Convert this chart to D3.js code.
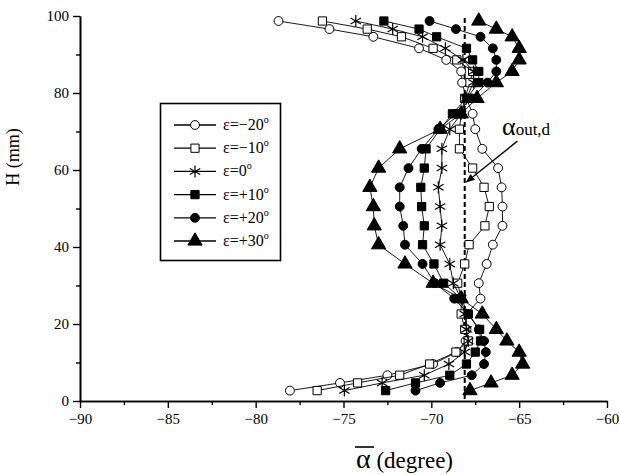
<!DOCTYPE html>
<html>
<head>
<meta charset="utf-8">
<script src="https://cdn.jsdelivr.net/npm/d3@7"></script>
<style>
  body { margin: 0; background: #fff; }
  text { font-family: "Liberation Serif", "Times New Roman", serif; fill: #000; }
</style>
</head>
<body>
<svg id="svg" width="619" height="475"></svg>
<script>
// measurement heights (mm), shared by every series
var heights = [98.7, 96.6, 94.6, 91.6, 88.6, 85.6, 82.7, 78.6, 74.6, 70.6, 65.5, 60.5, 55.5, 50.5,
               45.5, 40.6, 35.6, 30.6, 26.6, 22.6, 18.6, 15.6, 12.7, 9.6, 6.7, 4.7, 2.7];

var epsM20 = [-78.7, -75.8, -73.3, -70.7, -69.15, -68.3, -68.25, -68.0, -67.65, -67.5, -67.1, -66.2, -66.0, -65.95,
              -65.95, -66.5, -66.85, -67.3, -67.2, -68.0, -68.0, -68.05, -68.55, -69.9, -72.5, -75.2, -78.05];
var epsM10 = [-76.2, -73.65, -71.7, -69.9, -68.55, -67.65, -67.8, -68.1, -68.3, -68.4, -68.4, -67.65, -67.0, -66.7,
              -66.95, -67.85, -68.1, -68.5, -68.3, -68.3, -68.1, -67.9, -68.6, -70.1, -71.8, -74.2, -76.5];
var eps0   = [-74.3, -72.2, -70.5, -69.2, -68.2, -67.6, -67.6, -68.0, -68.3, -68.95, -69.4, -69.4, -69.6, -69.5,
              -69.4, -69.5, -68.95, -68.75, -68.3, -68.1, -68.0, -67.9, -68.1, -69.0, -70.4, -72.8, -74.95];
var epsP10 = [-72.7, -70.7, -69.7, -68.0, -67.65, -67.3, -67.3, -68.0, -68.8, -69.5, -70.3, -70.4, -70.6, -70.55,
              -70.4, -70.5, -69.85, -69.3, -68.3, -67.9, -67.25, -67.2, -67.5, -68.0, -68.95, -70.9, -72.6];
var epsP20 = [-70.1, -68.6, -67.2, -66.5, -66.3, -66.3, -66.8, -67.7, -68.6, -69.6, -70.55, -71.3, -71.8, -71.8,
              -71.6, -71.5, -70.5, -69.8, -68.7, -67.9, -67.3, -67.0, -66.9, -67.0, -67.7, -69.5, -70.9];
var epsP30 = [-67.3, -66.3, -65.4, -65.0, -65.0, -65.4, -66.3, -67.4, -68.3, -69.5, -71.8, -73.0, -73.5, -73.3,
              -73.25, -73.0, -71.5, -69.9, -68.3, -67.1, -66.3, -65.7, -65.0, -64.8, -65.4, -66.6, -67.8];

var seriesLabels = ["\u03b5=\u221220", "\u03b5=\u221210", "\u03b5=0", "\u03b5=+10", "\u03b5=+20", "\u03b5=+30"];
var seriesValues = [epsM20, epsM10, eps0, epsP10, epsP20, epsP30];
var seriesShapes = ["circle", "square", "asterisk", "square", "circle", "triangle"];
var seriesFilled = [false, false, false, true, true, true];

var xTicks = [-90, -85, -80, -75, -70, -65, -60];
var xMinorTicks = [-87.5, -82.5, -77.5, -72.5, -67.5, -62.5];
var yTicks = [0, 20, 40, 60, 80, 100];
var yMinorTicks = [10, 30, 50, 70, 90];

var designLine = -68.1;   // alpha_out,d
var designRange = [0.5, 99.5];
var arrowFrom = [-65.1, 67.5];
var arrowTo = [-68.0, 56.9];

var serif = "'Liberation Serif', 'Times New Roman', serif";
var svg = d3.select("#svg");

var x = d3.scaleLinear().domain([-90, -60]).range([80, 607]);
var y = d3.scaleLinear().domain([0, 100]).range([401, 16]);

// axes
function styleAxis(g) {
    g.attr("font-family", serif).attr("font-size", 15);
    g.select(".domain").attr("stroke", "#000").attr("stroke-width", 1.6);
    g.selectAll(".tick line").attr("stroke", "#000").attr("stroke-width", 1.4);
    g.selectAll(".tick text").attr("font-family", serif).style("font-family", serif).style("font-size", "15px");
}

svg.append("g")
    .attr("transform", "translate(0," + y(0) + ")")
    .call(d3.axisBottom(x).tickValues(xMinorTicks).tickSize(4).tickSizeOuter(0).tickFormat(""))
    .call(styleAxis);
svg.append("g")
    .attr("transform", "translate(0," + y(0) + ")")
    .call(d3.axisBottom(x).tickValues(xTicks).tickSize(7).tickSizeOuter(0).tickPadding(5))
    .call(styleAxis);

svg.append("g")
    .attr("transform", "translate(" + x(-90) + ",0)")
    .call(d3.axisLeft(y).tickValues(yMinorTicks).tickSize(4).tickSizeOuter(0).tickFormat(""))
    .call(styleAxis);
svg.append("g")
    .attr("transform", "translate(" + x(-90) + ",0)")
    .call(d3.axisLeft(y).tickValues(yTicks).tickSize(7).tickSizeOuter(0).tickPadding(4))
    .call(styleAxis);

// axis titles
svg.append("text")
    .attr("transform", "translate(19," + 157 + ") rotate(-90)")
    .attr("text-anchor", "middle")
    .style("font-size", "18px")
    .text("H (mm)");

var xt = svg.append("text")
    .attr("x", 356)
    .attr("y", 468);
xt.append("tspan").style("font-size", "28px").text("\u03b1");
xt.append("tspan").style("font-size", "23px").text(" (degree)");
svg.append("line")
    .attr("x1", 355).attr("x2", 374)
    .attr("y1", 447).attr("y2", 447)
    .attr("stroke", "#000").attr("stroke-width", 1.6);

// design angle line
svg.append("line")
    .attr("x1", x(designLine)).attr("x2", x(designLine))
    .attr("y1", y(designRange[0])).attr("y2", y(designRange[1]))
    .attr("stroke", "#000").attr("stroke-width", 2)
    .attr("stroke-dasharray", "5,3");

// marker drawing
var asteriskPath = function (s) {
    var r = s / 2, p = "";
    [90, 30, -30].forEach(function (a) {
        var dx = r * Math.cos(a * Math.PI / 180), dy = r * Math.sin(a * Math.PI / 180);
        p += "M" + (-dx) + "," + (-dy) + "L" + dx + "," + dy;
    });
    return p;
};
function drawMarker(g, shape, filled) {
    if (shape === "asterisk") {
        g.append("path").attr("d", asteriskPath(12))
            .attr("stroke", "#000").attr("stroke-width", 1.2).attr("fill", "none");
        return;
    }
    var sym = shape === "circle" ? d3.symbolCircle : shape === "square" ? d3.symbolSquare : d3.symbolTriangle;
    var size = shape === "circle" ? 62 : shape === "square" ? 68 : 88;
    g.append("path")
        .attr("d", d3.symbol().type(sym).size(size)())
        .attr("fill", filled ? "#000" : "#fff")
        .attr("stroke", "#000")
        .attr("stroke-width", 1);
}

var line = d3.line()
    .x(function (d) { return x(d.v); })
    .y(function (d) { return y(d.h); });

var series = seriesValues.map(function (vals, i) {
    return {
        label: seriesLabels[i], shape: seriesShapes[i], filled: seriesFilled[i],
        points: vals.map(function (v, j) { return { v: v, h: heights[j] }; })
    };
});

var sg = svg.selectAll(".series")
    .data(series)
    .enter()
    .append("g")
    .attr("class", "series");

sg.append("path")
    .attr("d", function (d) { return line(d.points); })
    .attr("fill", "none")
    .attr("stroke", "#000")
    .attr("stroke-width", 0.9);

sg.each(function (d) {
    d3.select(this).selectAll(".pt")
        .data(d.points)
        .enter()
        .append("g")
        .attr("class", "pt")
        .attr("transform", function (p) { return "translate(" + x(p.v) + "," + y(p.h) + ")"; })
        .each(function () { drawMarker(d3.select(this), d.shape, d.filled); });
});

// annotation
svg.append("defs").append("marker")
    .attr("id", "arrow")
    .attr("viewBox", "0 0 10 10")
    .attr("refX", 9).attr("refY", 5)
    .attr("markerWidth", 9).attr("markerHeight", 9)
    .attr("markerUnits", "userSpaceOnUse")
    .attr("orient", "auto")
    .append("path").attr("d", "M0,1 L10,5 L0,9 Z").attr("fill", "#000");

svg.append("line")
    .attr("x1", x(arrowFrom[0])).attr("y1", y(arrowFrom[1]))
    .attr("x2", x(arrowTo[0])).attr("y2", y(arrowTo[1]))
    .attr("stroke", "#000").attr("stroke-width", 1.3)
    .attr("marker-end", "url(#arrow)");

var ann = svg.append("text").attr("x", 502).attr("y", 135);
ann.append("tspan").style("font-size", "26px").text("\u03b1");
ann.append("tspan").style("font-size", "17px").text("out,d");

// legend
var legend = svg.append("g");
legend.append("rect")
    .attr("x", 160.5).attr("y", 103.5)
    .attr("width", 120).attr("height", 157)
    .attr("fill", "#fff")
    .attr("stroke", "#000").attr("stroke-width", 1.6);

var rows = legend.selectAll(".row")
    .data(series)
    .enter()
    .append("g")
    .attr("class", "row")
    .attr("transform", function (d, i) { return "translate(195," + (125 + i * 23.2) + ")"; });

rows.append("line")
    .attr("x1", -21).attr("x2", 21)
    .attr("stroke", "#000").attr("stroke-width", 1.3);
rows.each(function (d) { drawMarker(d3.select(this), d.shape, d.filled); });

var lt = rows.append("text")
    .attr("x", 28).attr("y", 5)
    .style("font-size", "16px");
lt.append("tspan").text(function (d) { return d.label; });
lt.append("tspan").attr("dy", -7).style("font-size", "10px").text("o");
</script>
</body>
</html>
